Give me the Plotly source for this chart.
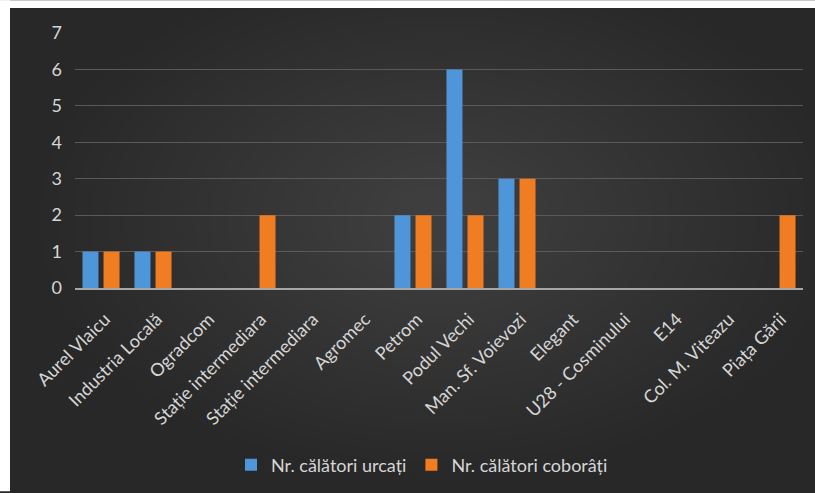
import plotly.graph_objects as go

categories = ["Aurel Vlaicu", "Industria Locală", "Ogradcom", "Stație intermediara",
              "Stație intermediara", "Agromec", "Petrom", "Podul Vechi",
              "Man. Sf. Voievozi", "Elegant", "U28 - Cosminului", "E14",
              "Col. M. Viteazu", "Piața Gării"]
urcati = [1, 1, 0, 0, 0, 0, 2, 6, 3, 0, 0, 0, 0, 0]
coborati = [1, 1, 0, 2, 0, 0, 2, 2, 3, 0, 0, 0, 0, 2]
y_ticks = [0, 1, 2, 3, 4, 5, 6, 7]

W, H = 815, 493
L, R, T, B = 75, 12, 33, 204
pw, ph = W - L - R, H - T - B


def px_x(p):
    return (p - L) / pw


def px_y(p):
    return (H - B - p) / ph


idx = list(range(len(categories)))

fig = go.Figure()
fig.add_trace(go.Bar(x=idx, y=urcati, name="Nr. călători urcați",
                     marker=dict(color="#4E95DA", line=dict(width=0))))
fig.add_trace(go.Bar(x=idx, y=coborati, name="Nr. călători coborâți",
                     marker=dict(color="#F07D22", line=dict(width=0))))

shapes = []
cx, cy = 440, 220
n = 22
for i in range(n):
    rx = 400 - i * 17
    ry = 255 - i * 10.5
    shapes.append(dict(type="circle", xref="paper", yref="paper", layer="below",
                       x0=px_x(cx - rx), x1=px_x(cx + rx),
                       y0=px_y(cy + ry), y1=px_y(cy - ry),
                       fillcolor="rgba(255,255,255,0.0085)", line=dict(width=0)))
# white frame strips at top and left
shapes.append(dict(type="rect", xref="paper", yref="paper", layer="below",
                   x0=px_x(0), x1=px_x(W), y0=px_y(8), y1=px_y(0),
                   fillcolor="white", line=dict(width=0)))
shapes.append(dict(type="rect", xref="paper", yref="paper", layer="below",
                   x0=px_x(0), x1=px_x(10), y0=px_y(H), y1=px_y(0),
                   fillcolor="white", line=dict(width=0)))

FONT = "Lato"
fig.update_layout(
    width=W, height=H,
    margin=dict(l=L, r=R, t=T, b=B),
    paper_bgcolor="#282828",
    plot_bgcolor="rgba(0,0,0,0)",
    barmode="group",
    bargap=0.19,
    bargroupgap=0.24,
    shapes=shapes,
    font=dict(family=FONT, color="#d6d6d6"),
    showlegend=True,
    legend=dict(orientation="h", x=px_x(422), xanchor="center", y=px_y(465), yanchor="middle",
                font=dict(size=18, color="#d6d6d6", family=FONT), bgcolor="rgba(0,0,0,0)",
                traceorder="normal", itemwidth=30),
    xaxis=dict(tickmode="array", tickvals=idx, ticktext=categories,
               range=[-0.5, len(categories) - 0.5], tickangle=-45,
               tickfont=dict(size=18, color="#d6d6d6", family=FONT), showgrid=False,
               showline=True, linecolor="#a6a6a6", linewidth=1.5, ticks="", zeroline=False,
               ticklabelstandoff=12, ticklabelshift=4),
    yaxis=dict(range=[0, 7], tickvals=y_ticks, tickfont=dict(size=18, color="#d6d6d6", family=FONT),
               showgrid=True, gridcolor="#5a5a5a", gridwidth=1,
               zeroline=False, showline=False, ticks="", ticklabelstandoff=12),
)

fig.write_html(
    "out.html",
    config={"displayModeBar": False},
    post_script=("document.body.style.margin='0';"
                 "document.body.style.overflow='hidden';"
                 "document.documentElement.style.overflow='hidden';"),
)
